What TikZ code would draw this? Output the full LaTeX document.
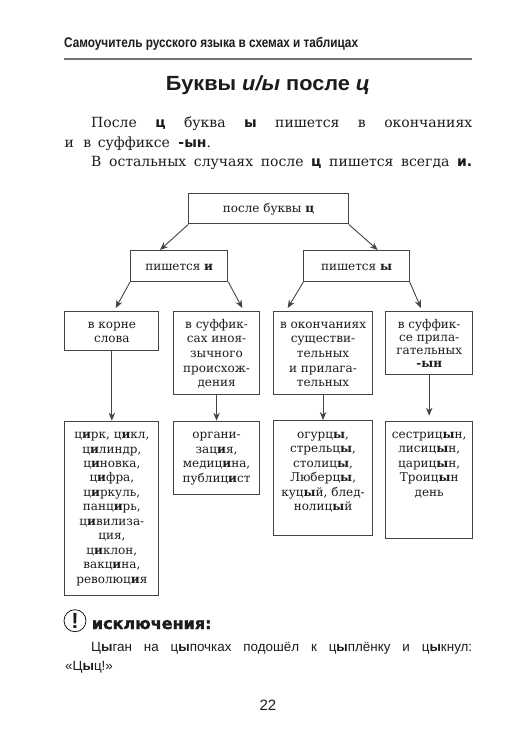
\documentclass[tikz,border=0pt]{standalone}
\usepackage{fontspec}
\setmainfont{DejaVu Serif}
\newfontfamily\hdfont[FakeStretch=0.84]{Liberation Sans}
\newfontfamily\ttlfont[FakeStretch=1.06]{Liberation Sans}
\newfontfamily\sansfont{Liberation Sans}
\newfontfamily\dvsans{DejaVu Sans}
\newfontfamily\exfont[FakeBold=1.6]{DejaVu Sans Bold}
\usetikzlibrary{arrows.meta}
\definecolor{inkc}{HTML}{1c1c1c}
\definecolor{edgec}{HTML}{444444}
\tikzset{
  x=1pt,y=-1pt,
  txt/.style={anchor=base west,inner sep=0pt,text=inkc},
  ctr/.style={anchor=base,inner sep=0pt,text=inkc},
  boxn/.style={draw=edgec,line width=1.1pt,rectangle,inner sep=0pt,anchor=north west,text=inkc,font=\fontsize{12}{14.5}\selectfont},
  arr/.style={draw=edgec,line width=0.9pt,-{Stealth[length=8pt,width=6.5pt]}},
}
% width, height, first-baseline offset, line spacing, text
\newcommand{\bxx}[5]{\begin{minipage}[t][#2pt][t]{#1pt}\vspace{\dimexpr#3pt-12pt\relax}\centering\baselineskip=#4pt\relax\rule{0pt}{12pt}#5\par\end{minipage}}
\newcommand{\bh}[1]{\textbf{#1}}
\newcommand{\sbh}[1]{{\dvsans\bfseries #1}}
\begin{document}
\begin{tikzpicture}
\useasboundingbox (0,0) rectangle (529,756);
\fill[white] (0,0) rectangle (529,756);
% header
\node[txt,font=\hdfont\bfseries\fontsize{14}{16}\selectfont] (hd) at (64,47) {Самоучитель русского языка в схемах и таблицах};
\coordinate (ruleL) at (64,59); \coordinate (ruleR) at (472,59);
\draw[line width=1.3pt,color=black!55] (ruleL) -- (ruleR);
\node[ctr,font=\ttlfont\bfseries\fontsize{20.5}{24}\selectfont] (title) at (268,90) {Буквы \textit{и/ы} после \textit{ц}};
% paragraph
\node[txt,font=\fontsize{14}{16}\selectfont] (p1) at (91,127.7) {\makebox[381pt][s]{После \sbh{ц} буква \sbh{ы} пишется в окончаниях}};
\node[txt,font=\fontsize{14}{16}\selectfont] (p2) at (64.5,147.3) {и\hspace{5pt} в\hspace{2pt} суффиксе\hspace{4pt} \sbh{-ын}.};
\node[txt,font=\fontsize{14}{16}\selectfont] (p3) at (91,166.7) {\makebox[381pt][s]{В остальных случаях после \sbh{ц} пишется всегда \sbh{и.}}};
% boxes
\node[boxn] (top) at (188.3,193.3) {\bxx{159.4}{30}{19}{14.5}{после буквы \bh{ц}}};
\node[boxn] (pi) at (130,250.3) {\bxx{97.3}{30.7}{19.7}{14.5}{пишется \bh{и}}};
\node[boxn] (py) at (303.3,250.3) {\bxx{105.4}{30.7}{19.7}{14.5}{пишется \bh{ы}}};
\node[boxn] (korn) at (64.3,311) {\bxx{94}{39.3}{16.7}{14.5}{в корне\\слова}};
\node[boxn] (suf) at (172.7,311) {\bxx{86.6}{83}{16.7}{14.6}{в суффик-\\сах иноя-\\зычного\\происхож-\\дения}};
\node[boxn] (okon) at (273.3,311) {\bxx{98.4}{83}{16.7}{14.6}{в окончаниях\\существи-\\тельных\\и прилага-\\тельных}};
\node[boxn] (sufb) at (385.3,311) {\bxx{86.7}{63.3}{16.7}{13}{в суффик-\\се прила-\\гательных\\\bh{-ын}}};
\node[boxn] (cirk) at (64.3,420.7) {\bxx{94}{174.3}{17.3}{14.45}{ц\bh{и}рк, ц\bh{и}кл,\\ц\bh{и}линдр,\\ц\bh{и}новка,\\ц\bh{и}фра,\\ц\bh{и}ркуль,\\панц\bh{и}рь,\\ц\bh{и}вилиза-\\ция,\\ц\bh{и}клон,\\вакц\bh{и}на,\\революц\bh{и}я}};
\node[boxn] (org) at (172.7,420.7) {\bxx{86.6}{73.6}{17.3}{14.5}{органи-\\зац\bh{и}я,\\медиц\bh{и}на,\\публиц\bh{и}ст}};
\node[boxn] (ogu) at (273.3,420) {\bxx{98.4}{115.3}{17.7}{14.5}{огурц\bh{ы},\\стрельц\bh{ы},\\столиц\bh{ы},\\Люберц\bh{ы},\\куц\bh{ы}й, блед-\\нолиц\bh{ы}й}};
\node[boxn] (ses) at (385.3,420.7) {\bxx{86.7}{117.6}{17}{14.5}{сестриц\bh{ы}н,\\лисиц\bh{ы}н,\\цариц\bh{ы}н,\\Троиц\bh{ы}н\\день}};
% connector ends
\coordinate (e1) at (160,250); \coordinate (e2) at (377.7,250);
\coordinate (e3) at (115.7,308); \coordinate (e4) at (242.3,308);
\coordinate (e5) at (287.7,308); \coordinate (e6) at (421,308);
\draw[arr] (top.south west) -- (e1);
\draw[arr] (top.south east) -- (e2);
\draw[arr] (pi.south west) -- (e3);
\draw[arr] (pi.south east) -- (e4);
\draw[arr] (py.south west) -- (e5);
\draw[arr] (py.south east) -- (e6);
\draw[arr] (korn.south) -- (cirk.north);
\draw[arr] (suf.south) -- (org.north);
\draw[arr] (okon.south) -- (ogu.north);
\draw[arr,shorten >=5pt] (sufb.south) -- (ses.north);
% exceptions
\node[draw=inkc,line width=0.8pt,circle,minimum size=22pt,inner sep=0pt,font=\sansfont\bfseries\fontsize{22}{22}\selectfont,text=inkc] (exc) at (75,620.7) {!};
\node[txt,font=\exfont\fontsize{16}{18}\selectfont] (exh) at (91.7,629) {исключения:};
\node[txt,font=\sansfont\fontsize{13.4}{16}\selectfont] (b1) at (91,651.7) {\makebox[381pt][s]{Ц\textbf{ы}ган на ц\textbf{ы}почках подошёл к ц\textbf{ы}плёнку и ц\textbf{ы}кнул:}};
\node[txt,font=\sansfont\fontsize{13.4}{16}\selectfont] (b2) at (65,670.7) {«Ц\textbf{ы}ц!»};
\node[ctr,font=\sansfont\fontsize{15}{16}\selectfont] (pg) at (268,710.7) {22};
\end{tikzpicture}
\end{document}
